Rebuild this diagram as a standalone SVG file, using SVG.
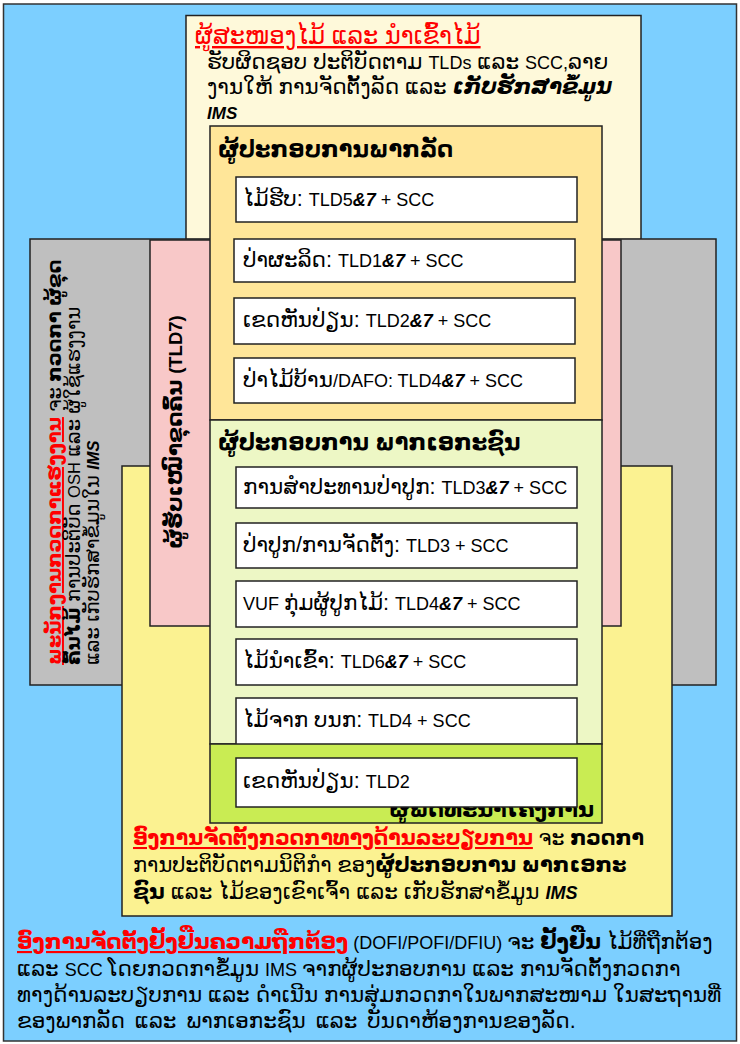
<svg xmlns="http://www.w3.org/2000/svg" width="740" height="1044" viewBox="0 0 740 1044">
<style>
text{font-family:"Liberation Sans","DejaVu Sans",sans-serif;fill:#000}
.box{stroke:#222;stroke-width:1.5}
.wb{fill:#fff;stroke:#222;stroke-width:1.5}
.wt{font-size:21.5px}
.wt tspan.l{font-size:18px}
.hd{font-size:22.5px;font-weight:bold}
.b{font-weight:bold}
.bi{font-weight:bold;font-style:italic}
.red{fill:#ff0000}
.u{text-decoration:underline}
.body{font-size:21.5px}
.l{font-size:18px}
</style>
<rect x="3.5" y="4" width="733" height="1037" fill="#7ccfff" stroke="#333" stroke-width="1.5"/>
<g id="supplier">
<rect class="box" x="186" y="15.5" width="455" height="224" fill="#fef9da"/>
<text x="195" y="44" font-size="24" class="red"><tspan class="u">ຜູ້ສະໜອງໄມ້ ແລະ ນຳເຂົ້າໄມ້</tspan></text>
<text x="207" y="69" class="body">ຮັບຜິດຊອບ ປະຕິບັດຕາມ <tspan class="l">TLDs</tspan> ແລະ <tspan class="l">SCC,</tspan>ລາຍ</text>
<text x="207" y="94" class="body">ງານໃຫ້ ການຈັດຕັ້ງລັດ ແລະ  <tspan class="bi">ເກັບຮັກສາຂໍ້ມູນ</tspan></text>
<text x="207" y="119" font-size="17" class="bi">IMS</text>
</g>
<g id="labour">
<rect class="box" x="30" y="239" width="686" height="446" fill="#bfbfbf"/>
<text transform="translate(61,665) rotate(-90)" font-size="19.5"><tspan class="b red u">ພະນັກງານກວດກາແຮງງານ</tspan> ຈະ <tspan class="b">ກວດກາ ຜູ້ຂຸດ</tspan></text>
<text transform="translate(80,665) rotate(-90)" font-size="19.5"><tspan class="b">ຄົ້ນໄມ້</tspan> ການປະຕິບັດ <tspan font-size="16.5">OSH</tspan>  ແລະ ຜູ້ໃຊ້ແຮງງານ</text>
<text transform="translate(99,665) rotate(-90)" font-size="19.5">ແລະ ເກັບຮັກສາຂໍ້ມູນໃນ <tspan class="bi" font-size="16.5">IMS</tspan></text>
</g>
<g id="regulator">
<rect class="box" x="122" y="466" width="550" height="450" fill="#fbf291"/>
<text x="133" y="845" font-size="20.5"><tspan class="b red u">ອົງການຈັດຕັ້ງກວດກາທາງດ້ານລະບຽບການ</tspan> ຈະ <tspan class="b">ກວດກາ</tspan></text>
<text x="133" y="872" font-size="21">ການປະຕິບັດຕາມນິຕິກຳ ຂອງ<tspan class="b">ຜູ້ປະກອບການ ພາກເອກະ</tspan></text>
<text x="133" y="899" class="body"><tspan class="b">ຊົນ</tspan> ແລະ ໄມ້ຂອງເຂົາເຈົ້າ ແລະ ເກັບຮັກສາຂໍ້ມູນ <tspan class="bi l">IMS</tspan></text>
</g>
<g id="concession">
<rect class="box" x="150" y="240" width="471" height="386" fill="#f8c8c8"/>
<text transform="translate(182,432) rotate(-90)" text-anchor="middle" font-size="21.5" class="b">ຜູ້ຮັບເໝົາຂຸດຄົ້ນ <tspan font-size="18.5">(TLD7)</tspan></text>
</g>
<g id="state">
<rect class="box" x="210" y="126" width="392" height="294" fill="#ffe699"/>
<text x="218" y="157" class="hd">ຜູ້ປະກອບການພາກລັດ</text>
<rect class="wb" x="236" y="177" width="341" height="45"/>
<text x="243" y="206" class="wt">ໄມ້ຮີບ: <tspan class="l">TLD5</tspan><tspan class="bi l">&amp;7</tspan><tspan class="l"> + SCC</tspan></text>
<rect class="wb" x="234" y="239" width="341" height="43"/>
<text x="243" y="267" class="wt">ປ່າຜະລິດ: <tspan class="l">TLD1</tspan><tspan class="bi l">&amp;7</tspan><tspan class="l"> + SCC</tspan></text>
<rect class="wb" x="234" y="298" width="341" height="46"/>
<text x="243" y="327" class="wt">ເຂດຫັນປ່ຽນ: <tspan class="l">TLD2</tspan><tspan class="bi l">&amp;7</tspan><tspan class="l"> + SCC</tspan></text>
<rect class="wb" x="234" y="358" width="341" height="45"/>
<text x="243" y="387" class="wt">ປ່າໄມ້ບ້ານ<tspan class="l">/DAFO: TLD4</tspan><tspan class="bi l">&amp;7</tspan><tspan class="l"> + SCC</tspan></text>
</g>
<g id="private">
<rect class="box" x="210" y="420" width="392" height="324" fill="#edf7c5"/>
<text x="218" y="450" class="hd">ຜູ້ປະກອບການ ພາກເອກະຊົນ</text>
<rect class="wb" x="236" y="467" width="341" height="41"/>
<text x="243" y="494" class="wt">ການສຳປະທານປ່າປູກ: <tspan class="l">TLD3</tspan><tspan class="bi l">&amp;7</tspan><tspan class="l"> + SCC</tspan></text>
<rect class="wb" x="236" y="523" width="341" height="45"/>
<text x="243" y="552" class="wt">ປ່າປູກ/ການຈັດຕັ້ງ: <tspan class="l">TLD3 + SCC</tspan></text>
<rect class="wb" x="236" y="581" width="341" height="46"/>
<text x="243" y="610" class="wt"><tspan class="l">VUF </tspan>ກຸ່ມຜູ້ປູກໄມ້: <tspan class="l">TLD4</tspan><tspan class="bi l">&amp;7</tspan><tspan class="l"> + SCC</tspan></text>
<rect class="wb" x="236" y="639" width="341" height="46"/>
<text x="243" y="668" class="wt">ໄມ້ນຳເຂົ້າ: <tspan class="l">TLD6</tspan><tspan class="bi l">&amp;7</tspan><tspan class="l"> + SCC</tspan></text>
<rect class="wb" x="236" y="698" width="341" height="50"/>
<text x="243" y="727" class="wt">ໄມ້ຈາກ ບນກ: <tspan class="l">TLD4 + SCC</tspan></text>
</g>
<g id="developer">
<rect class="box" x="210" y="744" width="392" height="79" fill="#c9ec53"/>
<text x="594" y="817" text-anchor="end" font-size="22" class="b">ຜູ້ພັດທະນາໂຄງການ</text>
<rect class="wb" x="236" y="758" width="341" height="49"/>
<text x="243" y="788" class="wt">ເຂດຫັນປ່ຽນ: <tspan class="l">TLD2</tspan></text>
</g>
<g id="verifier">
<text x="17" y="949" class="body"><tspan class="b red u">ອົງການຈັດຕັ້ງຢັ້ງຢືນຄວາມຖືກຕ້ອງ</tspan><tspan class="l"> (DOFI/POFI/DFIU) </tspan>ຈະ <tspan class="b">ຢັ້ງຢືນ</tspan> ໄມ້ທີ່ຖືກຕ້ອງ</text>
<text x="17" y="976" class="body">ແລະ  <tspan class="l">SCC </tspan>ໂດຍກວດກາຂໍ້ມູນ <tspan class="l">IMS </tspan>ຈາກຜູ້ປະກອບການ ແລະ ການຈັດຕັ້ງກວດກາ</text>
<text x="17" y="1002" class="body">ທາງດ້ານລະບຽບການ ແລະ ດຳເນີນ ການສຸ່ມກວດກາໃນພາກສະໜາມ ໃນສະຖານທີ່</text>
<text x="17" y="1028" class="body" word-spacing="4">ຂອງພາກລັດ ແລະ ພາກເອກະຊົນ ແລະ ບັນດາຫ້ອງການຂອງລັດ.</text>
</g>
</svg>
